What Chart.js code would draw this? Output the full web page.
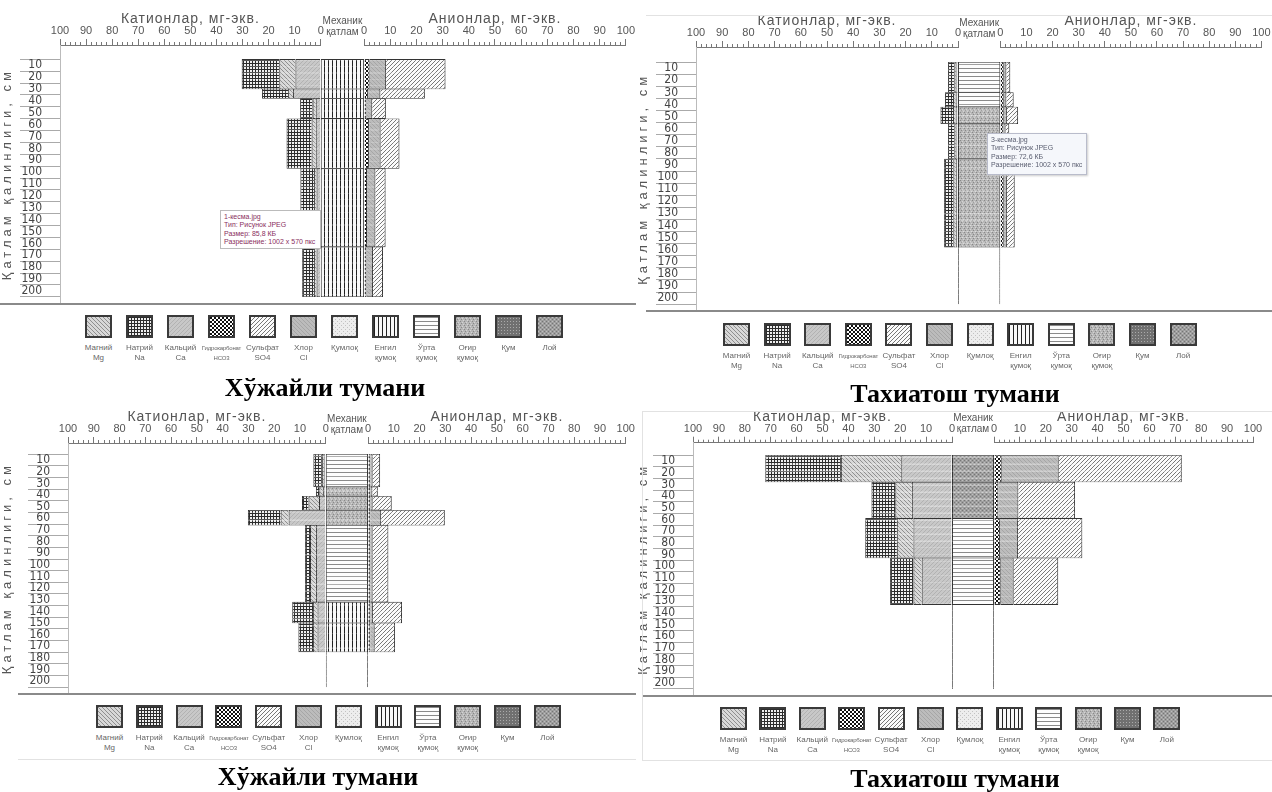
<!DOCTYPE html>
<html><head><meta charset="utf-8">
<script src="https://cdn.jsdelivr.net/npm/chart.js@4.4.1/dist/chart.umd.min.js"></script>
<style>
html,body{margin:0;padding:0;background:#fff;}
#page{position:relative;width:1272px;height:792px;overflow:hidden;background:#fff;font-family:"Liberation Sans",Arial,sans-serif;}
canvas.chart{position:absolute;}
.item{position:absolute;width:44px;text-align:center;}
.item canvas{display:block;margin:0 auto;border:2px solid #3a3a3a;}
.item div{font:8px/10px "Liberation Sans",Arial,sans-serif;color:#666;margin-top:5px;white-space:nowrap;}
.item div.small{font-size:6px;letter-spacing:-0.2px;}
.caption{position:absolute;font:bold 26px "Liberation Serif","Times New Roman",serif;color:#000;transform:translate(-50%,-50%);white-space:nowrap;}
.line{position:absolute;}
.tip{position:absolute;box-sizing:border-box;font:7px/8.4px "Liberation Sans",Arial,sans-serif;padding:2px 3px;white-space:nowrap;}
</style></head><body><div id="page"></div>
<script>
// ---------------- DATA ----------------
// Хўжайли тумани (top-left) — layer boundaries (cm) and ions (мг-экв.) per layer
const tlDepth = [0, 25, 33, 50, 92, 158, 200];
const tlNa   = [14.4, 10.0, 4.8, 9.6, 5.2, 4.5];
const tlMg   = [6.2, 1.9, 1.2, 1.6, 1.0, 1.0];
const tlCa   = [9.7, 10.6, 1.9, 1.9, 1.6, 1.6];
const tlHCO3 = [2.1, 1.5, 0.9, 1.9, 1.1, 0.9];
const tlCl   = [6.3, 4.7, 2.2, 4.4, 3.2, 2.5];
const tlSO4  = [22.7, 17.0, 5.2, 7.2, 3.9, 3.8];
const tlTexture = ['Енгил қумоқ','Енгил қумоқ','Енгил қумоқ','Енгил қумоқ','Енгил қумоқ','Енгил қумоқ'];

// Тахиатош тумани (top-right)
const trDepth = [0, 25, 37, 51, 80, 153];
const trNa   = [2.4, 3.1, 4.8, 2.4, 3.5];
const trMg   = [0.8, 1.0, 1.0, 0.8, 1.0];
const trCa   = [0.6, 0.9, 0.9, 0.6, 0.8];
const trHCO3 = [1.3, 1.3, 1.3, 1.2, 1.3];
const trCl   = [1.0, 1.0, 1.2, 0.8, 1.2];
const trSO4  = [1.5, 2.8, 4.3, 1.4, 3.0];
const trTexture = ['Ўрта қумоқ','Ўрта қумоқ','Оғир қумоқ','Оғир қумоқ','Оғир қумоқ'];

// Хўжайли тумани (bottom-left)
const blDepth = [0, 28, 36, 48, 61, 127, 145, 170];
const blNa   = [3.3, 1.3, 2.5, 12.7, 1.9, 8.1, 5.7];
const blMg   = [0.9, 1.5, 4.1, 3.1, 2.3, 1.7, 1.7];
const blCa   = [0.6, 1.0, 2.6, 14.4, 3.8, 3.2, 3.2];
const blHCO3 = [0.9, 0.9, 0.9, 0.9, 0.9, 0.9, 0.9];
const blCl   = [0.9, 0.8, 0.9, 4.2, 0.9, 1.0, 1.7];
const blSO4  = [2.9, 2.1, 7.4, 24.7, 6.1, 11.3, 7.9];
const blTexture = ['Ўрта қумоқ','Оғир қумоқ','Оғир қумоқ','Оғир қумоқ','Ўрта қумоқ','Енгил қумоқ','Енгил қумоқ'];

// Тахиатош тумани (bottom-right)
const brDepth = [0, 23, 54, 88, 128];
const brNa   = [29.2, 9.2, 12.2, 9.0];
const brMg   = [23.3, 6.4, 6.4, 3.2];
const brCa   = [19.6, 15.5, 14.9, 11.7];
const brHCO3 = [3.0, 1.7, 2.3, 2.6];
const brCl   = [22.0, 7.7, 7.0, 5.0];
const brSO4  = [47.5, 21.9, 24.8, 17.2];
const brTexture = ['Лой','Лой','Ўрта қумоқ','Ўрта қумоқ'];

// tick labels
const rulerLabels = [0, 10, 20, 30, 40, 50, 60, 70, 80, 90, 100];
const depthLabels = [10, 20, 30, 40, 50, 60, 70, 80, 90, 100, 110, 120, 130, 140, 150, 160, 170, 180, 190, 200];

// legend
const legendKeys  = ['Магний','Натрий','Кальций','Гидрокарбонат','Сульфат','Хлор','Қумлоқ','Енгил қумоқ','Ўрта қумоқ','Оғир қумоқ','Қум','Лой'];
const legendLine1 = ['Магний','Натрий','Кальций','Гидрокарбонат','Сульфат','Хлор','Қумлоқ','Енгил','Ўрта','Оғир','Қум','Лой'];
const legendLine2 = ['Mg','Na','Ca','HCO3','SO4','Cl','','қумоқ','қумоқ','қумоқ','',''];

const captions = ['Хўжайли тумани','Тахиатош тумани','Хўжайли тумани','Тахиатош тумани'];

// ---------------- STYLE / PATTERNS ----------------
const page = document.getElementById('page');
Chart.defaults.font.family = '"Liberation Sans", Arial, sans-serif';
Chart.defaults.devicePixelRatio = 1;

function makePatternCanvas(key) {
  const c = document.createElement('canvas');
  const g = c.getContext('2d');
  const spec = {
    'Магний': {s:4, bg:'#d8d8d8', f:(x,y)=> x===y ? '#8f8f8f' : null},
    'Натрий': {s:3, bg:'#efefef', f:(x,y)=> (x===0||y===0) ? '#2c2c2c' : null},
    'Кальций': {s:4, bg:'#c8c8c8', f:(x,y)=> x+y===3 ? '#b2b2b2' : null},
    'Гидрокарбонат': {s:4, bg:'#ffffff', f:(x,y)=> ((x<2)===(y<2)) ? '#111' : null},
    'Сульфат': {s:8, bg:'#fbfbfb', f:(x,y)=> ((x+y)%4===3 && ((x-y+16)%8)!==4) ? '#777' : null},
    'Хлор': {s:4, bg:'#bcbcbc', f:(x,y)=> x===y ? '#a6a6a6' : null},
    'Қумлоқ': {s:4, bg:'#ededed', f:(x,y)=> (x===y && x%2===0) ? '#c2c2c2' : null},
    'Енгил қумоқ': {s:4, bg:'#f8f8f8', f:(x,y)=> x===0 ? '#222' : null},
    'Ўрта қумоқ': {s:4, bg:'#fdfdfd', f:(x,y)=> y===0 ? '#8a8a8a' : null},
    'Оғир қумоқ': {s:4, bg:'#b6b6b6', f:(x,y)=> ((x===0&&y===0)||(x===1&&y===2)) ? '#888' : ((x===2&&y===1)||(x===3&&y===3)) ? '#d4d4d4' : null},
    'Қум': {s:3, bg:'#707070', f:(x,y)=> (x===1&&y===1) ? '#aaa' : null},
    'Лой': {s:4, bg:'#9d9d9d', f:(x,y)=> ((x===0&&y===0)||(x===2&&y===2)) ? '#767676' : ((x===2&&y===0)||(x===0&&y===2)) ? '#bebebe' : null}
  }[key];
  c.width = c.height = spec.s;
  g.fillStyle = spec.bg; g.fillRect(0, 0, spec.s, spec.s);
  for (let y = 0; y < spec.s; y++) for (let x = 0; x < spec.s; x++) {
    const col = spec.f(x, y);
    if (col) { g.fillStyle = col; g.fillRect(x, y, 1, 1); }
  }
  return c;
}
const patternCtx = document.createElement('canvas').getContext('2d');
const patterns = {};
legendKeys.forEach(k => { patterns[k] = patternCtx.createPattern(makePatternCanvas(k), 'repeat'); });

// letter-spaced axis titles (as in the picture)
function spacedTitle(spacing) {
  return s => {
    if (s._spacedTitle) return;
    s._spacedTitle = true;
    const orig = s.drawTitle;
    s.drawTitle = function () {
      const ctx = this.ctx;
      const prev = ctx.letterSpacing;
      ctx.letterSpacing = spacing;
      orig.apply(this, arguments);
      ctx.letterSpacing = prev || '0px';
    };
  };
}

// ---------------- BUILD ----------------
function slices(depth, vals, asRange) {
  const out = [];
  for (let j = 0; j < depth.length - 1; j++) {
    for (let cm = depth[j]; cm < depth[j + 1]; cm++) {
      out.push({x: asRange ? [0, 1] : vals[j], y: cm + 0.5, layer: j,
                first: cm === depth[j], last: cm === depth[j + 1] - 1});
    }
  }
  return out;
}
function frameSlices() {
  const out = [];
  for (let cm = 0; cm < 200; cm++) out.push({x: [0, 1], y: cm + 0.5});
  return out;
}

const panels = [
  {left:0,   top:0,   baseline:45,    barTop:53.3,  barBottom:303.3, areaLeft:60, wL:264, wM:44, wR:265,
   depth:tlDepth, na:tlNa, mg:tlMg, ca:tlCa, hco3:tlHCO3, cl:tlCl, so4:tlSO4, tex:tlTexture,
   legTop:315, legLeft:85, legStep:41, capX:325, capY:388},
  {left:636, top:0,   baseline:47,    barTop:56,    barBottom:310.7, areaLeft:60, wL:266, wM:43, wR:265,
   depth:trDepth, na:trNa, mg:trMg, ca:trCa, hco3:trHCO3, cl:trCl, so4:trSO4, tex:trTexture,
   legTop:323, legLeft:723, legStep:40.6, capX:955, capY:394},
  {left:0,   top:396, baseline:443,   barTop:448.3, barBottom:693.3, areaLeft:68, wL:262, wM:43, wR:262,
   depth:blDepth, na:blNa, mg:blMg, ca:blCa, hco3:blHCO3, cl:blCl, so4:blSO4, tex:blTexture,
   legTop:705, legLeft:96, legStep:39.8, capX:318, capY:777},
  {left:636, top:396, baseline:442.7, barTop:449.3, barBottom:695,   areaLeft:57, wL:259, wM:42, wR:259,
   depth:brDepth, na:brNa, mg:brMg, ca:brCa, hco3:brHCO3, cl:brCl, so4:brSO4, tex:brTexture,
   legTop:707, legLeft:720, legStep:39.4, capX:955, capY:779}
];

const rulerTicks = [];
for (let v = 0; v <= 100; v += 2) rulerTicks.push(v);

function sideAxis(p, weight, order, reverse, title) {
  return {
    type:'linear', position:'top', stack:'top', stackWeight:weight, weight:order, min:0, max:100, reverse:reverse, stacked:true,
    afterFit: s => { s.height = 40; },
    afterUpdate: spacedTitle('1px'),
    afterBuildTicks: s => { s.ticks = rulerTicks.map(v => ({value:v})); },
    ticks:{autoSkip:false, maxRotation:0, padding:1, color:'#555', font:{size:11},
           callback: v => rulerLabels.includes(v) ? String(v) : ''},
    grid:{drawOnChartArea:false, tickLength:6, color:'#777', tickWidth:1,
          tickBorderDash: c => (c.tick && c.tick.value % 10 !== 0) ? [0, 3, 3, 0] : []},
    border:{display:true, color:'#777', width:1},
    title:{display:true, text:title, color:'#555', font:{size:14}, padding:{top:6, bottom:0}}
  };
}

function buildPanel(p) {
  const canvas = document.createElement('canvas');
  const H = Math.ceil(p.barBottom - p.top) + 2;
  canvas.width = 636; canvas.height = H;
  canvas.className = 'chart';
  canvas.style.left = p.left + 'px'; canvas.style.top = p.top + 'px';
  page.appendChild(canvas);

  const pxPerCm = (p.barBottom - p.barTop) / 200;
  const yMin = -(p.barTop - p.baseline) / pxPerCm;
  const areaRight = p.areaLeft + p.wL + p.wM + p.wR;
  const padTop = (p.baseline - p.top) - 40;
  const padBottom = H - (p.barBottom - p.top);

  const base = {grouped:false, barPercentage:1.4, categoryPercentage:1, inflateAmount:0, borderSkipped:false, yAxisID:'y', borderColor:'#333'};
  const catBorder = c => { const r = c.raw || {}; return {left:1, right:0, top:r.first?1:0, bottom:r.last?1:0}; };
  const anBorder  = c => { const r = c.raw || {}; return {left:0, right:1, top:r.first?1:0, bottom:r.last?1:0}; };
  const texBorder = c => { const r = c.raw || {}; return {left:1, right:1, top:r.first?1:0, bottom:r.last?1:0}; };

  const datasets = [
    Object.assign({label:'Кальций Ca', xAxisID:'xL', data:slices(p.depth, p.ca), backgroundColor:patterns['Кальций'], borderWidth:catBorder}, base),
    Object.assign({label:'Магний Mg', xAxisID:'xL', data:slices(p.depth, p.mg), backgroundColor:patterns['Магний'], borderWidth:catBorder}, base),
    Object.assign({label:'Натрий Na', xAxisID:'xL', data:slices(p.depth, p.na), backgroundColor:patterns['Натрий'], borderWidth:catBorder}, base),
    Object.assign({label:'Гидрокарбонат HCO3', xAxisID:'xR', data:slices(p.depth, p.hco3), backgroundColor:patterns['Гидрокарбонат'], borderWidth:anBorder}, base),
    Object.assign({label:'Хлор Cl', xAxisID:'xR', data:slices(p.depth, p.cl), backgroundColor:patterns['Хлор'], borderWidth:anBorder}, base),
    Object.assign({label:'Сульфат SO4', xAxisID:'xR', data:slices(p.depth, p.so4), backgroundColor:patterns['Сульфат'], borderWidth:anBorder}, base),
    Object.assign({label:'Механик таркиб', xAxisID:'xM', data:slices(p.depth, null, true),
      backgroundColor: c => patterns[p.tex[(c.raw || {layer:0}).layer]], borderWidth:texBorder}, base),
    Object.assign({label:'frame', xAxisID:'xM', data:frameSlices(), backgroundColor:'rgba(0,0,0,0)',
      borderWidth:{left:1, right:1, top:0, bottom:0}}, base, {borderColor:'#7a7a7a'})
  ];

  new Chart(canvas, {
    type:'bar',
    data:{datasets},
    options:{
      indexAxis:'y', responsive:false, animation:false, devicePixelRatio:1,
      layout:{padding:{top:padTop, bottom:padBottom, left:0, right:636 - areaRight}},
      plugins:{legend:{display:false}, tooltip:{enabled:false}},
      scales:{
        xL: sideAxis(p, p.wL, 3, true, 'Катионлар, мг-экв.'),
        xM: {
          type:'linear', position:'top', stack:'top', stackWeight:p.wM, weight:2, min:0, max:1,
          afterFit: s => { s.height = 40; },
          afterBuildTicks: s => { s.ticks = [{value:0.5}]; },
          ticks:{autoSkip:false, maxRotation:0, padding:1, color:'#555', font:{size:10}, callback: () => 'қатлам'},
          grid:{drawOnChartArea:false, tickLength:6, color:'rgba(0,0,0,0)'},
          border:{display:false},
          title:{display:true, text:'Механик', color:'#555', font:{size:10}, padding:{top:10, bottom:0}}
        },
        xR: sideAxis(p, p.wR, 1, false, 'Анионлар, мг-экв.'),
        y: {
          type:'linear', position:'left', reverse:true, min:yMin, max:200,
          afterFit: s => { s.width = p.areaLeft; },
          afterUpdate: spacedTitle('4px'),
          afterBuildTicks: s => { s.ticks = depthLabels.map(v => ({value: v - 5})); },
          ticks:{autoSkip:false, padding:-22, color:'#444',
                 font:{size:12, family:'"Liberation Sans Narrow","DejaVu Sans Condensed","Liberation Sans",sans-serif'},
                 callback: (v, i) => String(depthLabels[i])},
          grid:{offset:true, drawOnChartArea:false, tickLength:40, color:'#aaa'},
          border:{display:true, color:'#bbb'},
          title:{display:true, text:'Қатлам қалинлиги, см', color:'#555', font:{size:13}, padding:0}
        }
      }
    }
  });

  // legend
  legendKeys.forEach((k, i) => {
    const it = document.createElement('div');
    it.className = 'item';
    it.style.left = (p.legLeft + i * p.legStep - 8.5) + 'px';
    it.style.top = p.legTop + 'px';
    const sw = document.createElement('canvas');
    sw.width = 23; sw.height = 19;
    const g = sw.getContext('2d');
    g.fillStyle = patterns[k]; g.fillRect(0, 0, 23, 19);
    it.appendChild(sw);
    const t = document.createElement('div');
    if (legendLine1[i].length > 9) t.className = 'small';
    t.innerHTML = legendLine1[i] + '<br>' + (legendLine2[i] || '&nbsp;');
    it.appendChild(t);
    page.appendChild(it);
  });
}

panels.forEach(buildPanel);

panels.forEach((p, i) => {
  const c = document.createElement('div');
  c.className = 'caption';
  c.textContent = captions[i];
  c.style.left = p.capX + 'px'; c.style.top = p.capY + 'px';
  page.appendChild(c);
});

// separator / frame lines
function line(x, y, w, h, css) {
  const d = document.createElement('div');
  d.className = 'line';
  d.style.cssText = `left:${x}px;top:${y}px;width:${w}px;height:${h}px;` + css;
  page.appendChild(d);
}
line(0, 303, 636, 0, 'border-top:2px solid #8a8a8a;');
line(646, 310, 626, 0, 'border-top:2px solid #8a8a8a;');
line(18, 693, 618, 0, 'border-top:2px solid #8a8a8a;');
line(642, 695, 630, 0, 'border-top:2px solid #8a8a8a;');
line(646, 15, 626, 0, 'border-top:1px solid #e2e2e2;');
line(642, 411, 630, 348, 'border:1px solid #e2e2e2;border-right:none;');
line(18, 759, 618, 0, 'border-top:1px solid #e2e2e2;');

// screenshot info boxes present in the picture
function tip(x, y, w, h, lines, css) {
  const d = document.createElement('div');
  d.className = 'tip';
  d.style.cssText = `left:${x}px;top:${y}px;width:${w}px;height:${h}px;` + css;
  d.innerHTML = lines.join('<br>');
  page.appendChild(d);
}
tip(220, 210, 101, 39, ['1-кесма.jpg','Тип: Рисунок JPEG','Размер: 85,8 КБ','Разрешение: 1002 x 570 пкс'],
    'background:#fff;border:1px solid #bbb;color:#8a2f5e;');
tip(987, 133, 100, 42, ['3-кесма.jpg','Тип: Рисунок JPEG','Размер: 72,6 КБ','Разрешение: 1002 x 570 пкс'],
    'background:#f5f7fb;border:1px solid #b9bccb;color:#5a5e70;box-shadow:1px 1px 2px #ccc;');
</script>
</body></html>
